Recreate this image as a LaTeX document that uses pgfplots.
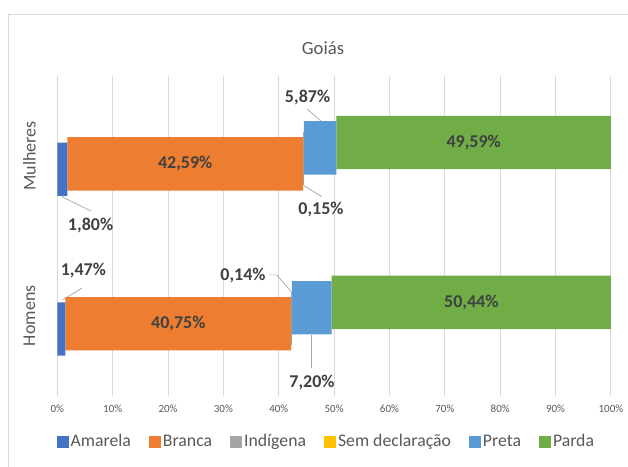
\documentclass[border=0pt]{standalone}
\usepackage{fontspec}
\setmainfont{Carlito}
\usepackage{pgfplots}
\pgfplotsset{compat=1.18}

\definecolor{amarela}{HTML}{4472C4}
\definecolor{branca}{HTML}{ED7D31}
\definecolor{indigena}{HTML}{A5A5A5}
\definecolor{semdecl}{HTML}{FFC000}
\definecolor{preta}{HTML}{5B9BD5}
\definecolor{parda}{HTML}{70AD47}
\definecolor{gridgray}{HTML}{D9D9D9}
\definecolor{txtgray}{HTML}{595959}
\definecolor{lblgray}{HTML}{404040}
\definecolor{leader}{HTML}{A6A6A6}

\tikzset{
  lbl/.style={font=\fontsize{13.5}{15}\selectfont\bfseries, text=lblgray},
  lead/.style={leader, line width=0.55pt},
}

\begin{document}
\begin{tikzpicture}
\useasboundingbox (0,0) rectangle (471pt,350.25pt);
% outer chart frame (only left and top edges fall inside the picture)
\draw[gridgray, line width=0.75pt] (6.4pt,-2pt) -- (6.4pt,339.4pt) -- (473pt,339.4pt);
\node[font=\fontsize{14}{16}\selectfont, text=txtgray] at (242.25pt,313.9pt) {Goiás};

\begin{axis}[
    at={(43pt,53.5pt)}, anchor=south west,
    scale only axis, width=415.2pt, height=239.8pt,
    xbar stacked, bar width=40pt,
    xmin=0, xmax=100, ymin=-0.5, ymax=1.5,
    clip=false,
    xtick={0,10,...,100},
    xticklabel={\pgfmathprintnumber{\tick}\%},
    ytick={0,1}, yticklabels={Homens,Mulheres},
    xmajorgrids, grid style={gridgray, line width=0.75pt},
    axis line style={draw=none},
    major tick length=0pt,
    /pgf/number format/assume math mode=true,
    xticklabel style={font=\fontsize{8.25}{9}\selectfont, text=txtgray, anchor=center, yshift=-10pt},
    yticklabel style={font=\fontsize{13.5}{15}\selectfont, text=txtgray, rotate=90, anchor=center, yshift=21pt},
    legend style={at={(0.486,-0.144)}, anchor=center, draw=none,
        font=\fontsize{13.3}{15}\selectfont, text=txtgray,
        legend columns=-1, nodes={inner sep=1.5pt},
        /tikz/every even column/.append style={column sep=12pt}},
    legend image code/.code={\fill[#1] (0pt,-4.5pt) rectangle (9pt,4.5pt);},
]
\addplot[fill=amarela, draw=none, bar shift=-10pt] coordinates {(1.47,0) (1.80,1)};
\addlegendentry{Amarela}
\addplot[fill=branca, draw=none, bar shift=-6pt] coordinates {(40.75,0) (42.59,1)};
\addlegendentry{Branca}
\addplot[fill=indigena, draw=none, bar shift=-2pt] coordinates {(0.14,0) (0.15,1)};
\addlegendentry{Indígena}
\addplot[fill=semdecl, draw=none, bar shift=2pt] coordinates {(0,0) (0,1)};
\addlegendentry{Sem declaração}
\addplot[fill=preta, draw=none, bar shift=6pt] coordinates {(7.20,0) (5.87,1)};
\addlegendentry{Preta}
\addplot[fill=parda, draw=none, bar shift=10pt] coordinates {(50.44,0) (49.59,1)};
\addlegendentry{Parda}

% anchor points for the labels inside the bars (drawn after the axis)
\coordinate (mB) at (axis cs:23.095,1);
\coordinate (mP) at (axis cs:75.2,1);
\coordinate (hB) at (axis cs:21.845,0);
\coordinate (hP) at (axis cs:74.78,0);

% callouts with leader lines
\draw[lead] (axis cs:0.79,0.745) -- (axis cs:6.09,0.655);
\node[lbl] at (axis cs:6.0,0.565) {1,80\%};
\draw[lead] (axis cs:44.56,0.8123) -- (axis cs:47.76,0.7454);
\node[lbl] at (axis cs:47.63,0.662) {0,15\%};
\draw[lead] (axis cs:45.16,1.292) -- (axis cs:47.58,1.219);
\node[lbl] at (axis cs:45.2,1.366) {5,87\%};
\draw[lead] (axis cs:0.975,0.0992) -- (axis cs:4.41,0.1724);
\node[lbl] at (axis cs:4.70,0.2806) {1,47\%};
\draw[lead] (axis cs:38.29,0.2556) -- (axis cs:39.63,0.2556) -- (axis cs:42.21,0.1511);
\node[lbl] at (axis cs:33.54,0.2524) {0,14\%};
\draw[lead] (axis cs:45.95,-0.1198) -- (axis cs:45.95,-0.3281);
\node[lbl] at (axis cs:46.0,-0.42) {7,20\%};
\end{axis}
\node[lbl, yshift=-6pt] at (mB) {42,59\%};
\node[lbl, yshift=10pt] at (mP) {49,59\%};
\node[lbl, yshift=-6pt] at (hB) {40,75\%};
\node[lbl, yshift=10pt] at (hP) {50,44\%};
\end{tikzpicture}
\end{document}
